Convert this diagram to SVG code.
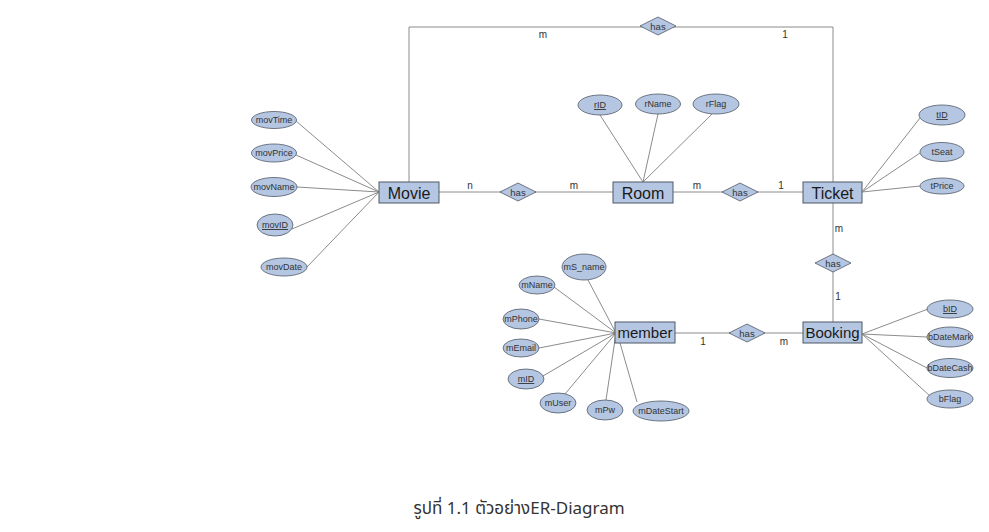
<svg xmlns="http://www.w3.org/2000/svg" width="989" height="532" viewBox="0 0 989 532">
<style>
.bg{fill:#ffffff}
.ln{stroke:#8c8c8c;stroke-width:1;fill:none}
.ent{fill:#b4c6e2;stroke:#4f5866;stroke-width:1}
.att{fill:#b4c6e2;stroke:#4f5866;stroke-width:0.8}
.rel{fill:#b4c6e2;stroke:#4f5866;stroke-width:0.8}
.et{font-family:"Liberation Sans",Arial,sans-serif;font-size:16px;fill:#1a1a1a;text-anchor:middle}
.sm{font-size:15px}
.at{font-family:"Liberation Sans",Arial,sans-serif;font-size:9px;fill:#333333;text-anchor:middle}
.rt{font-family:"Liberation Sans",Arial,sans-serif;font-size:9.5px;fill:#333333;text-anchor:middle}
.ct{font-family:"Liberation Sans",Arial,sans-serif;font-size:10px;fill:#333333;text-anchor:middle}
.u{text-decoration:underline}
.cap{font-family:"Noto Sans","Noto Sans Thai",Tahoma,sans-serif;font-size:17px;fill:#333333;text-anchor:middle}
</style>
<rect class="bg" x="0" y="0" width="989" height="532"/>
<g id="connectors">
<polyline class="ln" points="409,182 409,27 833,27 833,182"/>
<line class="ln" x1="439" y1="192" x2="613" y2="192"/>
<line class="ln" x1="673" y1="192" x2="803" y2="192"/>
<line class="ln" x1="833" y1="203" x2="833" y2="322"/>
<line class="ln" x1="675" y1="333" x2="803" y2="333"/>
<line class="ln" x1="296" y1="121" x2="379" y2="192"/>
<line class="ln" x1="296" y1="155" x2="379" y2="192"/>
<line class="ln" x1="297" y1="187" x2="379" y2="192"/>
<line class="ln" x1="292" y1="229" x2="379" y2="192"/>
<line class="ln" x1="307" y1="267" x2="379" y2="192"/>
<line class="ln" x1="600" y1="115" x2="643" y2="182"/>
<line class="ln" x1="658" y1="114" x2="643" y2="182"/>
<line class="ln" x1="712" y1="114" x2="643" y2="182"/>
<line class="ln" x1="920" y1="118" x2="862" y2="192"/>
<line class="ln" x1="920" y1="153" x2="862" y2="192"/>
<line class="ln" x1="920" y1="186" x2="862" y2="192"/>
<line class="ln" x1="928" y1="309" x2="862" y2="334"/>
<line class="ln" x1="927" y1="337" x2="862" y2="334"/>
<line class="ln" x1="927" y1="368" x2="862" y2="334"/>
<line class="ln" x1="930" y1="396" x2="862" y2="334"/>
<line class="ln" x1="588" y1="280" x2="616" y2="333"/>
<line class="ln" x1="554" y1="287" x2="616" y2="333"/>
<line class="ln" x1="539" y1="319" x2="616" y2="333"/>
<line class="ln" x1="539" y1="348" x2="616" y2="333"/>
<line class="ln" x1="543" y1="376" x2="616" y2="333"/>
<line class="ln" x1="565" y1="394" x2="616" y2="333"/>
<line class="ln" x1="606" y1="400" x2="616" y2="333"/>
<line class="ln" x1="637" y1="402" x2="620" y2="343"/>
</g>
<g id="labels">
<text class="ct" x="543" y="38">m</text>
<text class="ct" x="785" y="38">1</text>
<text class="ct" x="470" y="189">n</text>
<text class="ct" x="574" y="189">m</text>
<text class="ct" x="697" y="189">m</text>
<text class="ct" x="781" y="189">1</text>
<text class="ct" x="839" y="232">m</text>
<text class="ct" x="838" y="300">1</text>
<text class="ct" x="703" y="345">1</text>
<text class="ct" x="784" y="345">m</text>
</g>
<g id="rel-top"><polygon class="rel" points="640,26 658,17 676,26 658,35"/><text class="rt" x="658" y="29.5">has</text></g>
<g id="rel-movie-room"><polygon class="rel" points="500,192 518,183 536,192 518,201"/><text class="rt" x="518" y="195.5">has</text></g>
<g id="rel-room-ticket"><polygon class="rel" points="722,192 740,183 758,192 740,201"/><text class="rt" x="740" y="195.5">has</text></g>
<g id="rel-ticket-booking"><polygon class="rel" points="815,263 833,254 851,263 833,272"/><text class="rt" x="833" y="266.5">has</text></g>
<g id="rel-member-booking"><polygon class="rel" points="729,333 747,324 765,333 747,342"/><text class="rt" x="747" y="336.5">has</text></g>
<g id="movie"><rect class="ent" x="379" y="182" width="60" height="21"/><text class="et" x="409" y="198.5">Movie</text></g>
<g id="room"><rect class="ent" x="613" y="182" width="60" height="21"/><text class="et" x="643" y="198.5">Room</text></g>
<g id="ticket"><rect class="ent" x="803" y="182" width="59" height="21"/><text class="et" x="832.5" y="198.5">Ticket</text></g>
<g id="booking"><rect class="ent" x="803" y="322" width="59" height="21"/><text class="et sm" x="832.5" y="338">Booking</text></g>
<g id="member"><rect class="ent" x="615" y="322" width="60" height="21"/><text class="et sm" x="645" y="338">member</text></g>
<g id="movTime"><ellipse class="att" cx="274" cy="120" rx="22.5" ry="8.5"/><text class="at" x="274" y="123">movTime</text></g>
<g id="movPrice"><ellipse class="att" cx="274" cy="153" rx="22.5" ry="9"/><text class="at" x="274" y="156">movPrice</text></g>
<g id="movName"><ellipse class="att" cx="274" cy="187" rx="23" ry="9.5"/><text class="at" x="274" y="190">movName</text></g>
<g id="movID"><ellipse class="att" cx="275" cy="225" rx="18" ry="11"/><text class="at u" x="275" y="228">movID</text></g>
<g id="movDate"><ellipse class="att" cx="284" cy="267" rx="23" ry="9"/><text class="at" x="284" y="270">movDate</text></g>
<g id="rID"><ellipse class="att" cx="600" cy="105" rx="22" ry="10"/><text class="at u" x="600" y="108">rID</text></g>
<g id="rName"><ellipse class="att" cx="658" cy="104" rx="22.5" ry="10"/><text class="at" x="658" y="107">rName</text></g>
<g id="rFlag"><ellipse class="att" cx="716" cy="104" rx="23" ry="10"/><text class="at" x="716" y="107">rFlag</text></g>
<g id="tID"><ellipse class="att" cx="942" cy="115" rx="23" ry="10"/><text class="at u" x="942" y="118">tID</text></g>
<g id="tSeat"><ellipse class="att" cx="942" cy="152" rx="22" ry="9.5"/><text class="at" x="942" y="155">tSeat</text></g>
<g id="tPrice"><ellipse class="att" cx="942" cy="186" rx="22" ry="8"/><text class="at" x="942" y="189">tPrice</text></g>
<g id="bID"><ellipse class="att" cx="950" cy="309" rx="23" ry="9"/><text class="at u" x="950" y="312">bID</text></g>
<g id="bDateMark"><ellipse class="att" cx="950" cy="337" rx="23" ry="10"/><text class="at" x="950" y="340">bDateMark</text></g>
<g id="bDateCash"><ellipse class="att" cx="950" cy="368" rx="23" ry="9.5"/><text class="at" x="950" y="371">bDateCash</text></g>
<g id="bFlag"><ellipse class="att" cx="950" cy="399" rx="23" ry="9"/><text class="at" x="950" y="402">bFlag</text></g>
<g id="mS_name"><ellipse class="att" cx="584" cy="267" rx="22" ry="13"/><text class="at" x="584" y="270">mS_name</text></g>
<g id="mName"><ellipse class="att" cx="537" cy="285" rx="18" ry="9"/><text class="at" x="537" y="288">mName</text></g>
<g id="mPhone"><ellipse class="att" cx="521" cy="319" rx="18" ry="10"/><text class="at" x="521" y="322">mPhone</text></g>
<g id="mEmail"><ellipse class="att" cx="521" cy="348" rx="18" ry="9"/><text class="at" x="521" y="351">mEmail</text></g>
<g id="mID"><ellipse class="att" cx="526" cy="379" rx="18" ry="10"/><text class="at u" x="526" y="382">mID</text></g>
<g id="mUser"><ellipse class="att" cx="558" cy="403" rx="18" ry="10"/><text class="at" x="558" y="406">mUser</text></g>
<g id="mPw"><ellipse class="att" cx="605" cy="410" rx="18" ry="10"/><text class="at" x="605" y="413">mPw</text></g>
<g id="mDateStart"><ellipse class="att" cx="661" cy="411" rx="28" ry="10"/><text class="at" x="661" y="414">mDateStart</text></g>
<text class="cap" x="519" y="514">รูปที่ 1.1 ตัวอย่างER-Diagram</text>
</svg>
